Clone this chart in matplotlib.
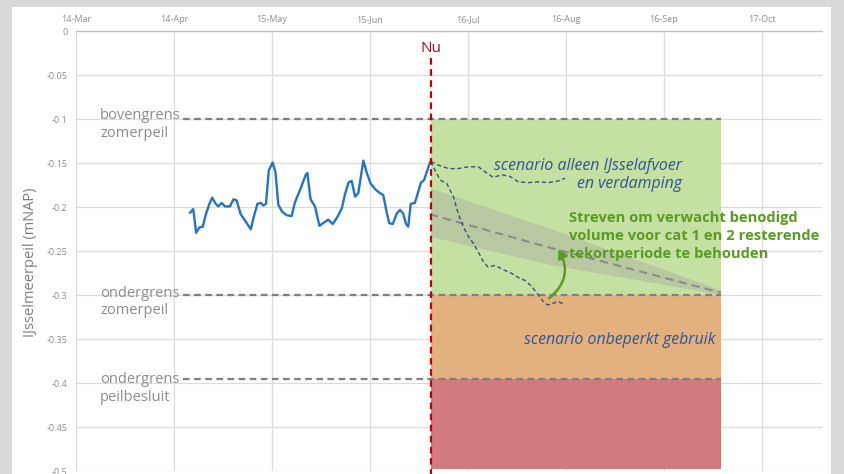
import matplotlib
matplotlib.use("Agg")
import matplotlib.pyplot as plt
from matplotlib.patches import Rectangle, FancyArrowPatch
from matplotlib import font_manager

# ---------------- data ----------------
tick_days = [0, 31, 62, 93, 124, 155, 186, 217]
tick_labels = ["14-Mar", "14-Apr", "15-May", "15-Jun", "16-Jul", "16-Aug", "16-Sep", "17-Oct"]
y_ticks = [0, -0.05, -0.1, -0.15, -0.2, -0.25, -0.3, -0.35, -0.4, -0.45, -0.5]
y_tick_labels = ["0", "-0.05", "-0.1", "-0.15", "-0.2", "-0.25", "-0.3", "-0.35", "-0.4", "-0.45", "-0.5"]

# observed level (days after 14-Mar, m NAP)
obs_days = [36.1, 37.1, 38.0, 39.0, 40.1, 41.0, 42.1, 43.1, 44.2, 45.0, 46.1, 47.1, 48.7, 49.8,
            50.8, 52.1, 53.1, 54.2, 55.3, 56.3, 57.4, 58.4, 59.3, 60.1, 61.0, 62.2, 63.1, 64.0,
            65.2, 66.7, 68.2, 69.3, 70.9, 72.7, 73.2, 74.2, 75.6, 77.0, 78.2, 79.8, 81.2, 82.7,
            84.1, 85.1, 86.2, 87.2, 88.3, 89.3, 90.9, 92.0, 93.2, 94.8, 96.2, 97.2, 98.3, 99.1,
            100.2, 101.5, 102.5, 103.5, 104.4, 105.1, 105.9, 107.2, 108.3, 109.1, 110.1, 112.0]
obs_level = [-0.206, -0.202, -0.229, -0.223, -0.222, -0.209, -0.197, -0.189, -0.196, -0.199,
             -0.195, -0.199, -0.199, -0.191, -0.192, -0.208, -0.213, -0.219, -0.225, -0.210,
             -0.196, -0.195, -0.198, -0.196, -0.158, -0.149, -0.160, -0.197, -0.205, -0.209,
             -0.210, -0.194, -0.180, -0.163, -0.161, -0.191, -0.199, -0.221, -0.218, -0.214,
             -0.219, -0.211, -0.201, -0.185, -0.172, -0.170, -0.188, -0.184, -0.147, -0.161,
             -0.173, -0.180, -0.184, -0.186, -0.206, -0.218, -0.219, -0.207, -0.203, -0.207,
             -0.219, -0.222, -0.196, -0.195, -0.182, -0.172, -0.169, -0.149]

# scenario: alleen IJsselafvoer en verdamping
sc1_days = [112.3, 114.6, 117.8, 120.9, 124.1, 127.3, 129.9, 132.0, 134.7, 137.3, 139.9,
            143.1, 146.3, 149.4, 152.6, 154.7]
sc1_level = [-0.148, -0.152, -0.156, -0.156, -0.154, -0.154, -0.161, -0.166, -0.163, -0.165,
             -0.171, -0.172, -0.171, -0.172, -0.170, -0.167]

# scenario: onbeperkt gebruik
sc2_days = [112.3, 113.6, 115.2, 117.3, 119.4, 120.9, 122.5, 124.1, 125.7, 127.3, 128.9, 130.4,
            132.6, 135.2, 137.8, 140.5, 142.0, 144.2, 146.3, 147.8, 149.2, 151.0, 152.6, 154.2]
sc2_level = [-0.148, -0.158, -0.169, -0.173, -0.188, -0.207, -0.222, -0.233, -0.241, -0.251,
             -0.262, -0.268, -0.266, -0.271, -0.275, -0.281, -0.283, -0.290, -0.300, -0.307,
             -0.311, -0.309, -0.307, -0.310]

# target path and band
target_days = [112, 150, 204]
target_mid = [-0.208, -0.246, -0.297]
target_upper = [-0.178, -0.224, -0.294]
target_lower = [-0.233, -0.265, -0.299]

# limits / zones
now_day = 112.3
zone_end = 204
bovengrens = -0.1
ondergrens_zomer = -0.3
ondergrens_besluit = -0.395
y_bottom = -0.5
limit_start = 33.8

# ---------------- fonts ----------------
avail = {f.name for f in font_manager.fontManager.ttflist}
def pick(*names):
    for n in names:
        if n in avail:
            return n
    return "DejaVu Sans"
narrow = pick("Liberation Sans Narrow", "Open Sans", "DejaVu Sans")
main = pick("Open Sans", "Noto Sans", "DejaVu Sans")

# ---------------- figure ----------------
W, H = 844, 474
fig = plt.figure(figsize=(W / 100, H / 100), dpi=100, facecolor="#d9d9d9")
bg = Rectangle((12 / W, 0), (831 - 12) / W, (H - 7) / H,
               transform=fig.transFigure, facecolor="white", edgecolor="none", zorder=-10)
fig.add_artist(bg)

ax = fig.add_axes([76 / W, 1 - 471.3 / H, (822 - 76) / W, (471.3 - 31.3) / H])
ax.set_zorder(1)
ax.set_facecolor("none")
ax.set_xlim(0, 236)
ax.set_ylim(y_bottom, 0)

ax.set_xticks(tick_days)
ax.set_xticklabels(tick_labels)
ax.set_yticks(y_ticks)
ax.set_yticklabels(y_tick_labels)
ax.xaxis.tick_top()
ax.tick_params(axis="both", length=0, labelsize=6.5, labelcolor="#8c8c8c")
ax.tick_params(axis="x", pad=5)
ax.tick_params(axis="y", pad=6)
for lab in ax.get_xticklabels() + ax.get_yticklabels():
    lab.set_fontfamily(narrow)
ax.grid(True, color="#dcdcdc", lw=0.9, zorder=0)
for s in ["left", "right", "bottom"]:
    ax.spines[s].set_visible(False)
ax.spines["top"].set_color("#bfbfbf")
ax.spines["top"].set_linewidth(0.9)
ax.set_axisbelow(True)

# zones
ax.fill_between([now_day, zone_end], bovengrens, ondergrens_zomer, color="#c5e0a3", zorder=1, lw=0)
ax.fill_between([now_day, zone_end], ondergrens_zomer, ondergrens_besluit, color="#e3b17f", zorder=1, lw=0)
ax.fill_between([now_day, zone_end], ondergrens_besluit, y_bottom + 0.003, color="#d17b7c", zorder=1, lw=0)

# limit lines
for yv in [bovengrens, ondergrens_zomer, ondergrens_besluit]:
    ax.plot([limit_start, zone_end], [yv, yv], color="#7f7f7f", lw=1.6, dashes=(3, 2), zorder=3)

# band + target
ax.fill_between(target_days, target_upper, target_lower, color="#a0a0a0", alpha=0.35, lw=0, zorder=2)
ax.plot(target_days, target_mid, color="#8c8c8c", lw=1.5, dashes=(4, 2.5), zorder=3)

# scenarios
ax.plot(sc1_days, sc1_level, color="#3c5078", lw=1.0, dashes=(3, 2), zorder=4)
ax.plot(sc2_days, sc2_level, color="#3c5078", lw=1.0, dashes=(3, 2), zorder=4)

# observed
ax.plot(obs_days, obs_level, color="#2574c4", lw=1.7, zorder=5)

# Nu line
ax.plot([now_day, now_day], [-0.03, -0.51], color="#c00000", lw=1.6, dashes=(3, 2), zorder=6, clip_on=False)
ax.text(now_day, -0.0195, "Nu", color="#a50f15", fontsize=11, family=main, ha="center", va="center")

# limit labels
lab_kw = dict(color="#8c8c8c", fontsize=10.5, family=main, ha="left", va="center", linespacing=1.25, zorder=7)
ax.text(7.6, -0.1055, "bovengrens\nzomerpeil", **lab_kw)
ax.text(7.6, -0.3075, "ondergrens\nzomerpeil", **lab_kw)
ax.text(7.6, -0.4055, "ondergrens\npeilbesluit", **lab_kw)

# scenario labels
sc_kw = dict(color="#2f5597", fontsize=11.4, family=main, style="italic", va="center", zorder=7)
ax.text(132.2, -0.1535, "scenario alleen IJsselafvoer", ha="left", **sc_kw)
ax.text(191.7, -0.173, "en verdamping", ha="right", **sc_kw)
ax.text(202.2, -0.351, "scenario onbeperkt gebruik", ha="right", **sc_kw)

# green text
ax.text(156, -0.2325, "Streven om verwacht benodigd\nvolume voor cat 1 en 2 resterende\ntekortperiode te behouden",
        color="#5b9b25", fontsize=10.6, family=main, weight="bold", ha="left", va="center",
        linespacing=1.33, zorder=7)

arrow = FancyArrowPatch((149.0, -0.3053), (152.2, -0.2451), connectionstyle="arc3,rad=0.45",
                        arrowstyle="-|>,head_length=5,head_width=3", color="#5b9b25", lw=1.8, zorder=7)
ax.add_patch(arrow)

# y label
fig.text(31 / W, 1 - 262 / H, "IJsselmeerpeil (mNAP)", rotation=90, color="#7f7f7f",
         fontsize=10.5, family=main, ha="center", va="center")

fig.savefig("out.png", dpi=100, facecolor=fig.get_facecolor())
